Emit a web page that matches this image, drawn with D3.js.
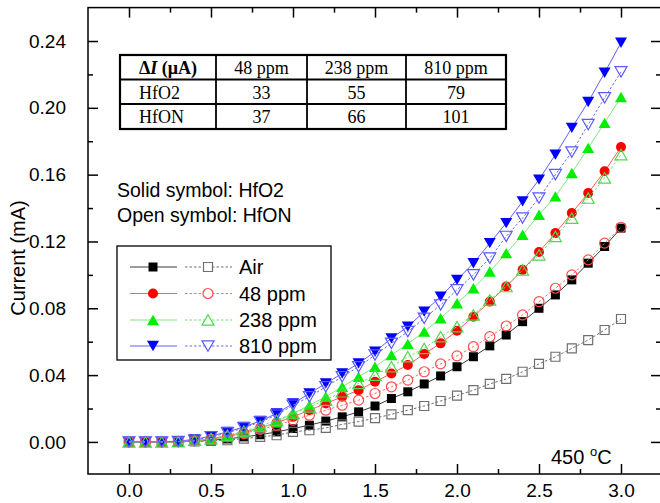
<!DOCTYPE html>
<html>
<head>
<meta charset="utf-8">
<script src="https://cdn.jsdelivr.net/npm/d3@7"></script>
<style>
  body { margin: 0; background: #fff; }
  svg { display: block; }
</style>
</head>
<body>
<script>
// Applied voltage (V)
const voltage = [0.0, 0.1, 0.2, 0.3, 0.4, 0.5, 0.6, 0.7, 0.8, 0.9, 1.0,
                 1.1, 1.2, 1.3, 1.4, 1.5, 1.6, 1.7, 1.8, 1.9, 2.0,
                 2.1, 2.2, 2.3, 2.4, 2.5, 2.6, 2.7, 2.8, 2.9, 3.0];

// Current (mA), HfO2 devices (solid symbols)
const airHfO2 = [0, 0, 0, 0.0001, 0.0004, 0.001, 0.0018, 0.003, 0.0043, 0.006, 0.008,
                 0.010, 0.0125, 0.015, 0.018, 0.0215, 0.026, 0.030, 0.0347, 0.0395, 0.045,
                 0.051, 0.0575, 0.064, 0.072, 0.080, 0.088, 0.097, 0.107, 0.117, 0.128];
const ppm48HfO2 = [0, 0, 0, 0.0002, 0.0008, 0.002, 0.0035, 0.0058, 0.0085, 0.0115, 0.015,
                   0.019, 0.023, 0.027, 0.031, 0.036, 0.041, 0.046, 0.0527, 0.059, 0.0665,
                   0.075, 0.084, 0.093, 0.103, 0.1137, 0.125, 0.137, 0.149, 0.162, 0.1765];
const ppm238HfO2 = [0, 0, 0, 0.0003, 0.0008, 0.0015, 0.003, 0.0054, 0.008, 0.012, 0.017,
                    0.022, 0.027, 0.033, 0.039, 0.045, 0.052, 0.0587, 0.066, 0.074, 0.083,
                    0.092, 0.102, 0.113, 0.124, 0.136, 0.147, 0.161, 0.176, 0.191, 0.2065];
const ppm810HfO2 = [0, 0, 0, 0.0005, 0.0015, 0.0035, 0.006, 0.009, 0.0125, 0.017, 0.023,
                    0.029, 0.035, 0.041, 0.047, 0.054, 0.062, 0.069, 0.078, 0.087, 0.097,
                    0.107, 0.119, 0.131, 0.144, 0.157, 0.172, 0.188, 0.2035, 0.221, 0.239];

// Current (mA), HfON devices (open symbols)
const airHfON = [0, 0, 0, 0, 0.0003, 0.0006, 0.001, 0.002, 0.003, 0.004, 0.006,
                 0.007, 0.0084, 0.0105, 0.0122, 0.0142, 0.0165, 0.019, 0.0215, 0.0245, 0.0277,
                 0.031, 0.0347, 0.0377, 0.042, 0.0467, 0.051, 0.056, 0.061, 0.067, 0.0736];
const ppm48HfON = [0, 0, 0, 0.0002, 0.0007, 0.0017, 0.003, 0.005, 0.0075, 0.010, 0.013,
                   0.016, 0.019, 0.022, 0.025, 0.029, 0.033, 0.037, 0.042, 0.0467, 0.0515,
                   0.057, 0.063, 0.0694, 0.076, 0.084, 0.092, 0.100, 0.109, 0.119, 0.1285];
const ppm238HfON = [0, 0, 0, 0.0002, 0.001, 0.002, 0.004, 0.0065, 0.0095, 0.013, 0.017,
                    0.021, 0.025, 0.030, 0.035, 0.040, 0.045, 0.051, 0.056, 0.063, 0.069,
                    0.076, 0.085, 0.093, 0.103, 0.112, 0.123, 0.134, 0.146, 0.158, 0.172];
const ppm810HfON = [0, 0, 0, 0.0003, 0.001, 0.003, 0.0054, 0.0084, 0.012, 0.016, 0.022,
                    0.027, 0.033, 0.039, 0.045, 0.052, 0.059, 0.066, 0.074, 0.082, 0.091,
                    0.100, 0.110, 0.123, 0.134, 0.146, 0.160, 0.1735, 0.190, 0.206, 0.2215];

const seriesNames = ["Air", "48 ppm", "238 ppm", "810 ppm"];

// Response table, ΔI in µA
const tableColumns = ["48 ppm", "238 ppm", "810 ppm"];
const tableRowNames = ["HfO2", "HfON"];
const deltaHfO2 = [33, 55, 79];
const deltaHfON = [37, 66, 101];

const xTicks = [0.0, 0.5, 1.0, 1.5, 2.0, 2.5, 3.0];
const xMinorTicks = [0.25, 0.75, 1.25, 1.75, 2.25, 2.75];
const yTicks = [0.00, 0.04, 0.08, 0.12, 0.16, 0.20, 0.24];
const yMinorTicks = [0.02, 0.06, 0.10, 0.14, 0.18, 0.22];

// ---- drawing ----
const W = 660, H = 503;
const SANS = "'Liberation Sans', Arial, sans-serif";
const SERIF = "'Liberation Serif', 'Times New Roman', serif";

const svg = d3.select("body").append("svg")
  .attr("width", W).attr("height", H);

const x = d3.scaleLinear().domain([-0.25, 3.25]).range([88, 662]);
const y = d3.scaleLinear().domain([-0.0192, 0.26]).range([474, 7.6]);

const looks = [
  { shape: "square", solid: "#000000", solidLine: "#3a3a3a", open: "#6e6e6e", openLine: "#6e6e6e" },
  { shape: "circle", solid: "#ff0000", solidLine: "#ff5c5c", open: "#ff4a4a", openLine: "#ff6a6a" },
  { shape: "up",     solid: "#00ee00", solidLine: "#7ee87e", open: "#4fd84f", openLine: "#6fe06f" },
  { shape: "down",   solid: "#0000ff", solidLine: "#6060ff", open: "#5a5aff", openLine: "#6a6aff" }
];

function markerPath(shape) {
  switch (shape) {
    case "square": return "M-4.5,-4.5H4.5V4.5H-4.5Z";
    case "circle": return "M5,0A5,5 0 1,1 -5,0A5,5 0 1,1 5,0Z";
    case "up":     return "M0,-5.2L6,5.2L-6,5.2Z";
    case "down":   return "M0,5.2L6,-5.2L-6,-5.2Z";
  }
}

const solidSets = [airHfO2, ppm48HfO2, ppm238HfO2, ppm810HfO2];
const openSets = [airHfON, ppm48HfON, ppm238HfON, ppm810HfON];

const plot = svg.append("g");
const line = d3.line().x((d, i) => x(voltage[i])).y(d => y(d));

function drawSeries(values, look, filled) {
  const g = plot.append("g");
  g.append("path")
    .attr("d", line(values))
    .attr("fill", "none")
    .attr("stroke", filled ? look.solidLine : look.openLine)
    .attr("stroke-width", 1)
    .attr("stroke-dasharray", filled ? null : "2.5,2");
  g.selectAll("path.mk").data(values).join("path")
    .attr("class", "mk")
    .attr("d", markerPath(look.shape))
    .attr("transform", (d, i) => `translate(${x(voltage[i])},${y(d)})`)
    .attr("fill", filled ? look.solid : "none")
    .attr("stroke", filled ? "none" : look.open)
    .attr("stroke-width", 1.2);
}

solidSets.forEach((vals, k) => drawSeries(vals, looks[k], true));
openSets.forEach((vals, k) => drawSeries(vals, looks[k], false));

// ---- axes (ticks point inward on all four sides) ----
function styleAxis(g) {
  g.select(".domain").remove();
  g.selectAll(".tick line").attr("stroke", "#000").attr("stroke-width", 1.5);
  g.selectAll("text").attr("font-family", SANS).attr("font-size", 19).attr("fill", "#000");
}

svg.append("g").attr("transform", `translate(0,${y.range()[0]})`)
  .call(d3.axisBottom(x).tickValues(xTicks).tickSize(-10).tickPadding(10).tickFormat(d3.format(".1f")))
  .call(styleAxis);
svg.append("g").attr("transform", `translate(0,${y.range()[0]})`)
  .call(d3.axisBottom(x).tickValues(xMinorTicks).tickSize(-5).tickFormat(""))
  .call(styleAxis);
svg.append("g").attr("transform", `translate(0,${y.range()[1]})`)
  .call(d3.axisTop(x).tickValues(xTicks).tickSize(-10).tickFormat(""))
  .call(styleAxis);
svg.append("g").attr("transform", `translate(0,${y.range()[1]})`)
  .call(d3.axisTop(x).tickValues(xMinorTicks).tickSize(-5).tickFormat(""))
  .call(styleAxis);

svg.append("g").attr("transform", `translate(${x.range()[0]},0)`)
  .call(d3.axisLeft(y).tickValues(yTicks).tickSize(-10).tickPadding(22).tickFormat(d3.format(".2f")))
  .call(styleAxis);
svg.append("g").attr("transform", `translate(${x.range()[0]},0)`)
  .call(d3.axisLeft(y).tickValues(yMinorTicks).tickSize(-5).tickFormat(""))
  .call(styleAxis);
svg.append("g").attr("transform", `translate(${x.range()[1] - 1},0)`)
  .call(d3.axisRight(y).tickValues(yTicks).tickSize(-10).tickFormat(""))
  .call(styleAxis);
svg.append("g").attr("transform", `translate(${x.range()[1] - 1},0)`)
  .call(d3.axisRight(y).tickValues(yMinorTicks).tickSize(-5).tickFormat(""))
  .call(styleAxis);

// frame
svg.append("rect")
  .attr("x", x.range()[0]).attr("y", y.range()[1])
  .attr("width", x.range()[1] - 1 - x.range()[0])
  .attr("height", y.range()[0] - y.range()[1])
  .attr("fill", "none").attr("stroke", "#000").attr("stroke-width", 1.5);

// y-axis title
svg.append("text")
  .attr("transform", "translate(25,258) rotate(-90)")
  .attr("text-anchor", "middle")
  .attr("font-family", SANS).attr("font-size", 20)
  .text("Current (mA)");

// ---- response table ----
const tbl = svg.append("g");
const colEdges = [120, 216, 307, 406, 506];
const rowEdges = [55, 79.5, 104, 129];
tbl.append("rect")
  .attr("x", colEdges[0]).attr("y", rowEdges[0])
  .attr("width", colEdges[4] - colEdges[0]).attr("height", rowEdges[3] - rowEdges[0])
  .attr("fill", "#fff").attr("stroke", "#000").attr("stroke-width", 2.2);
colEdges.slice(1, 4).forEach(cx => tbl.append("line")
  .attr("x1", cx).attr("x2", cx).attr("y1", rowEdges[0]).attr("y2", rowEdges[3])
  .attr("stroke", "#000").attr("stroke-width", 1.8));
rowEdges.slice(1, 3).forEach(ry => tbl.append("line")
  .attr("x1", colEdges[0]).attr("x2", colEdges[4]).attr("y1", ry).attr("y2", ry)
  .attr("stroke", "#000").attr("stroke-width", 1.8));

const head = tbl.append("text")
  .attr("x", 139).attr("y", 74)
  .attr("font-family", SERIF).attr("font-size", 18).attr("font-weight", "bold");
head.append("tspan").text("Δ");
head.append("tspan").attr("font-style", "italic").text("I");
head.append("tspan").text(" (μA)");

tableColumns.forEach((c, j) => tbl.append("text")
  .attr("x", (colEdges[j + 1] + colEdges[j + 2]) / 2).attr("y", 74)
  .attr("text-anchor", "middle")
  .attr("font-family", SERIF).attr("font-size", 18).text(c));

[deltaHfO2, deltaHfON].forEach((row, r) => {
  const by = [98.5, 123][r];
  tbl.append("text").attr("x", 139).attr("y", by)
    .attr("font-family", SERIF).attr("font-size", 18).text(tableRowNames[r]);
  row.forEach((v, j) => tbl.append("text")
    .attr("x", (colEdges[j + 1] + colEdges[j + 2]) / 2).attr("y", by)
    .attr("text-anchor", "middle")
    .attr("font-family", SERIF).attr("font-size", 18).text(v));
});

// ---- notes ----
svg.append("text").attr("x", 117).attr("y", 197)
  .attr("font-family", SANS).attr("font-size", 19.5).text("Solid symbol: HfO2");
svg.append("text").attr("x", 117).attr("y", 222)
  .attr("font-family", SANS).attr("font-size", 19.5).text("Open symbol: HfON");

// ---- legend ----
const lg = svg.append("g");
lg.append("rect").attr("x", 117).attr("y", 246).attr("width", 214).attr("height", 114)
  .attr("fill", "#fff").attr("stroke", "#000").attr("stroke-width", 1.3);
const rowY = [267, 293.5, 320, 346];
seriesNames.forEach((name, k) => {
  const ly = rowY[k], lk = looks[k];
  lg.append("line").attr("x1", 130).attr("x2", 177).attr("y1", ly).attr("y2", ly)
    .attr("stroke", lk.solidLine).attr("stroke-width", 1);
  lg.append("path").attr("d", markerPath(lk.shape))
    .attr("transform", `translate(153,${ly})`).attr("fill", lk.solid);
  lg.append("line").attr("x1", 185).attr("x2", 232).attr("y1", ly).attr("y2", ly)
    .attr("stroke", lk.openLine).attr("stroke-width", 1).attr("stroke-dasharray", "2.5,2");
  lg.append("path").attr("d", markerPath(lk.shape))
    .attr("transform", `translate(208,${ly})`)
    .attr("fill", "#fff").attr("stroke", lk.open).attr("stroke-width", 1.2);
  lg.append("text").attr("x", 239).attr("y", ly + 7)
    .attr("font-family", SANS).attr("font-size", 20).text(name);
});

// ---- temperature note ----
const temp = svg.append("text").attr("x", 551).attr("y", 464)
  .attr("font-family", SANS).attr("font-size", 20);
temp.append("tspan").text("450 ");
temp.append("tspan").attr("font-size", 13).attr("dy", -8).text("o");
temp.append("tspan").attr("dy", 8).text("C");
</script>
</body>
</html>
